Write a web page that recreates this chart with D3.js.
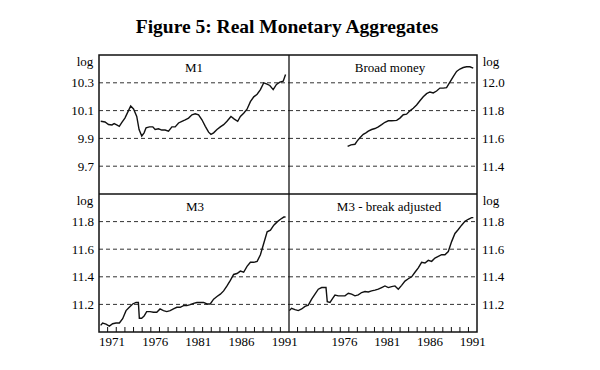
<!DOCTYPE html>
<html>
<head>
<meta charset="utf-8">
<script src="https://cdn.jsdelivr.net/npm/d3@7"></script>
<style>
body { margin: 0; background: #fff; }
svg { display: block; font-family: "Liberation Serif", "DejaVu Serif", serif; }
</style>
</head>
<body>
<svg></svg>
<script>
// data (quarterly) : [year, log level]
var m1 = [[1970.2,10.023],[1970.7,10.018],[1971.1,10.0],[1971.5,9.997],[1971.75,10.006],[1972.05,9.997],[1972.35,9.987],[1972.65,10.016],[1973.0,10.046],[1973.4,10.098],[1973.67,10.133],[1974.0,10.112],[1974.37,10.058],[1974.64,9.964],[1974.95,9.917],[1975.22,9.94],[1975.45,9.976],[1975.84,9.983],[1976.23,9.983],[1976.5,9.964],[1976.89,9.969],[1977.27,9.96],[1977.66,9.96],[1978.05,9.952],[1978.44,9.983],[1978.82,9.983],[1979.21,10.011],[1979.6,10.023],[1979.98,10.034],[1980.37,10.046],[1980.76,10.07],[1981.14,10.077],[1981.53,10.07],[1981.92,10.034],[1982.31,9.987],[1982.69,9.945],[1982.96,9.929],[1983.27,9.94],[1983.66,9.964],[1984.05,9.983],[1984.43,9.999],[1984.82,10.023],[1985.28,10.058],[1985.67,10.039],[1986.06,10.023],[1986.37,10.058],[1986.75,10.081],[1987.14,10.11],[1987.53,10.164],[1987.92,10.199],[1988.31,10.218],[1988.69,10.251],[1989.08,10.3],[1989.39,10.293],[1989.78,10.281],[1990.17,10.251],[1990.55,10.288],[1990.94,10.305],[1991.33,10.312],[1991.6,10.359]];
var broad = [[1976.86,11.542],[1977.25,11.553],[1977.72,11.558],[1977.99,11.582],[1978.3,11.605],[1978.69,11.629],[1979.0,11.64],[1979.28,11.652],[1979.67,11.664],[1980.06,11.671],[1980.45,11.683],[1980.84,11.699],[1981.23,11.716],[1981.62,11.727],[1982.01,11.727],[1982.6,11.73],[1982.98,11.746],[1983.37,11.77],[1983.76,11.774],[1984.15,11.798],[1984.54,11.817],[1984.93,11.84],[1985.32,11.871],[1985.71,11.899],[1986.1,11.922],[1986.49,11.934],[1986.88,11.927],[1987.27,11.941],[1987.66,11.962],[1988.05,11.962],[1988.44,11.965],[1988.83,12.005],[1989.22,12.045],[1989.61,12.082],[1990.0,12.099],[1990.39,12.11],[1990.78,12.115],[1991.17,12.115],[1991.56,12.106]];
var m3 = [[1970.19,11.048],[1970.42,11.065],[1970.81,11.057],[1971.2,11.043],[1971.58,11.06],[1971.97,11.065],[1972.36,11.065],[1972.74,11.096],[1973.13,11.155],[1973.51,11.179],[1973.9,11.203],[1974.29,11.214],[1974.56,11.214],[1974.67,11.1],[1974.94,11.1],[1975.22,11.115],[1975.52,11.148],[1975.91,11.148],[1976.3,11.143],[1976.69,11.143],[1977.07,11.167],[1977.46,11.155],[1977.85,11.148],[1978.24,11.155],[1978.62,11.167],[1979.01,11.179],[1979.4,11.179],[1979.79,11.191],[1980.17,11.191],[1980.56,11.198],[1980.95,11.207],[1981.34,11.214],[1981.72,11.214],[1982.11,11.214],[1982.5,11.203],[1982.88,11.203],[1983.27,11.238],[1983.66,11.257],[1984.05,11.274],[1984.43,11.298],[1984.82,11.334],[1985.21,11.374],[1985.59,11.417],[1985.98,11.424],[1986.37,11.441],[1986.75,11.433],[1987.14,11.476],[1987.53,11.505],[1987.92,11.505],[1988.31,11.512],[1988.69,11.56],[1989.08,11.643],[1989.47,11.726],[1989.85,11.738],[1990.24,11.774],[1990.63,11.798],[1991.01,11.817],[1991.4,11.833],[1991.6,11.833]];
var m3adj = [[1970.04,11.155],[1970.3,11.172],[1970.7,11.162],[1971.09,11.155],[1971.48,11.167],[1971.87,11.186],[1972.26,11.195],[1972.65,11.238],[1973.04,11.274],[1973.43,11.31],[1973.82,11.322],[1974.33,11.322],[1974.48,11.219],[1974.8,11.214],[1975.11,11.243],[1975.38,11.267],[1975.77,11.262],[1976.16,11.262],[1976.55,11.262],[1976.94,11.281],[1977.33,11.274],[1977.72,11.262],[1978.11,11.269],[1978.5,11.286],[1978.89,11.293],[1979.28,11.29],[1979.67,11.298],[1980.06,11.303],[1980.45,11.31],[1980.84,11.322],[1981.23,11.334],[1981.62,11.322],[1982.01,11.329],[1982.4,11.334],[1982.79,11.31],[1983.18,11.338],[1983.57,11.369],[1983.96,11.386],[1984.35,11.4],[1984.74,11.433],[1985.13,11.464],[1985.52,11.505],[1985.91,11.5],[1986.3,11.519],[1986.69,11.512],[1987.08,11.536],[1987.47,11.548],[1987.86,11.56],[1988.25,11.56],[1988.64,11.583],[1989.03,11.655],[1989.42,11.714],[1989.81,11.743],[1990.2,11.774],[1990.59,11.802],[1990.98,11.817],[1991.37,11.829],[1991.57,11.829]];

var titles = ["M1", "Broad money", "M3", "M3 - break adjusted"];
var yTicksM1 = [9.7, 9.9, 10.1, 10.3];
var yTicksBroad = [11.4, 11.6, 11.8, 12.0];
var yTicksM3 = [11.2, 11.4, 11.6, 11.8];
var yearsLeft = [1971, 1976, 1981, 1986, 1991];
var yearsRight = [1976, 1981, 1986, 1991];

var svg = d3.select('svg')
  .attr('width', 600)
  .attr('height', 370);

svg.append('text')
  .attr('x', 287)
  .attr('y', 33)
  .attr('text-anchor', 'middle')
  .style('font-size', '19.5px')
  .style('font-weight', 'bold')
  .text('Figure 5: Real Monetary Aggregates');

// frame edges
var xLeft = 99, xMid = 289, xRight = 477, yTop = 55, yMid = 194, yBottom = 332;

// one entry per panel
var panels = [
  {data: m1, title: titles[0], x0: xLeft, x1: xMid, y0: yTop, y1: yMid, dom: [9.5, 10.5], ticks: yTicksM1, side: 'left', years: null, tx: 194},
  {data: broad, title: titles[1], x0: xMid, x1: xRight, y0: yTop, y1: yMid, dom: [11.2, 12.2], ticks: yTicksBroad, side: 'right', years: null, tx: 390},
  {data: m3, title: titles[2], x0: xLeft, x1: xMid, y0: yMid, y1: yBottom, dom: [11.0, 12.0], ticks: yTicksM3, side: 'left', years: yearsLeft, tx: 195},
  {data: m3adj, title: titles[3], x0: xMid, x1: xRight, y0: yMid, y1: yBottom, dom: [11.0, 12.0], ticks: yTicksM3, side: 'right', years: yearsRight, tx: 389}
];

panels.forEach(function(p) {
  var x = d3.scaleLinear().domain([1970, 1992]).range([p.x0, p.x1]);
  var y = d3.scaleLinear().domain(p.dom).range([p.y1, p.y0]);
  var g = svg.append('g');

  // dashed grid
  g.selectAll('line.grid')
    .data(p.ticks)
    .enter()
    .append('line')
    .attr('x1', p.x0)
    .attr('x2', p.x1)
    .attr('y1', d => y(d))
    .attr('y2', d => y(d))
    .attr('stroke', '#333')
    .attr('stroke-width', 1)
    .attr('stroke-dasharray', '4,3');

  // y tick labels outside the frame
  g.selectAll('text.tick')
    .data(p.ticks)
    .enter()
    .append('text')
    .attr('x', p.side == 'left' ? p.x0 - 5 : p.x1 + 5)
    .attr('y', d => y(d))
    .attr('dy', '.35em')
    .attr('text-anchor', p.side == 'left' ? 'end' : 'start')
    .style('font-size', '13px')
    .text(d => d.toFixed(1));

  g.append('text')
    .attr('x', p.side == 'left' ? p.x0 - 14 : p.x1 + 14)
    .attr('y', p.y0 + 6)
    .attr('dy', '.35em')
    .attr('text-anchor', 'middle')
    .style('font-size', '13px')
    .text('log');

  g.append('text')
    .attr('x', p.tx)
    .attr('y', p.y0 + 12)
    .attr('dy', '.35em')
    .attr('text-anchor', 'middle')
    .style('font-size', '13px')
    .text(p.title);

  var line = d3.line()
    .x(d => x(d[0]))
    .y(d => y(d[1]));

  g.append('path')
    .datum(p.data)
    .attr('d', line)
    .attr('fill', 'none')
    .attr('stroke', '#111')
    .attr('stroke-width', 1.4);

  if (p.years) {
    // year ticks pointing up from the bottom
    g.selectAll('line.yr')
      .data(d3.range(1971, 1992))
      .enter()
      .append('line')
      .attr('x1', d => x(d))
      .attr('x2', d => x(d))
      .attr('y1', p.y1)
      .attr('y2', p.y1 - 5)
      .attr('stroke', '#111')
      .attr('stroke-width', 1);

    g.selectAll('text.yr')
      .data(p.years)
      .enter()
      .append('text')
      .attr('x', d => Math.min(x(d + 0.5), p.x1))
      .attr('y', p.y1 + 14)
      .attr('text-anchor', 'middle')
      .style('font-size', '13px')
      .text(d => d);
  }
});

// frame
svg.append('rect')
  .attr('x', xLeft)
  .attr('y', yTop)
  .attr('width', xRight - xLeft)
  .attr('height', yBottom - yTop)
  .attr('fill', 'none')
  .attr('stroke', '#111')
  .attr('stroke-width', 1.5);
svg.append('line')
  .attr('x1', xMid).attr('x2', xMid)
  .attr('y1', yTop).attr('y2', yBottom)
  .attr('stroke', '#111').attr('stroke-width', 1.3);
svg.append('line')
  .attr('x1', xLeft).attr('x2', xRight)
  .attr('y1', yMid).attr('y2', yMid)
  .attr('stroke', '#111').attr('stroke-width', 1.3);
</script>
</body>
</html>
